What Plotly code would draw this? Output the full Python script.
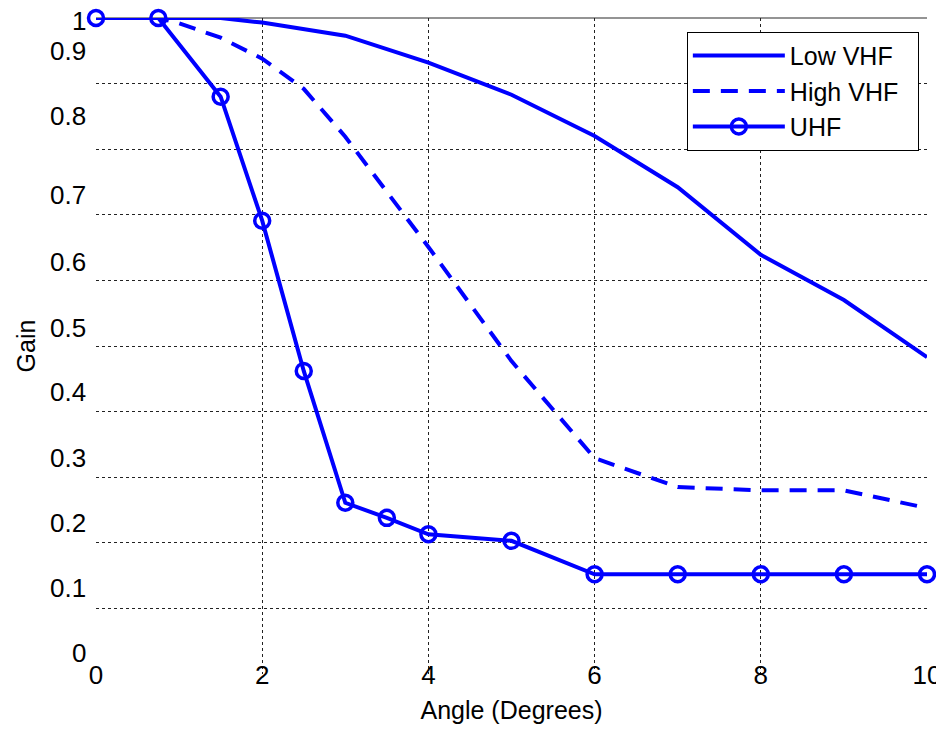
import plotly.graph_objects as go

# ---- data ----
low_vhf_x = [0, 0.75, 1.5, 2, 3, 4, 5, 6, 7, 8, 9, 10]
low_vhf_y = [1.0, 1.0, 1.0, 0.993, 0.973, 0.932, 0.883, 0.820, 0.742, 0.639, 0.570, 0.483]

high_vhf_x = [0, 0.75, 1, 1.5, 2, 2.5, 3, 4, 5, 6, 7, 8, 9, 10]
high_vhf_y = [1.0, 1.0, 0.992, 0.970, 0.938, 0.892, 0.819, 0.651, 0.477, 0.329, 0.285, 0.280, 0.280, 0.253]

uhf_x = [0, 0.75, 1.5, 2, 2.5, 3, 3.5, 4, 5, 6, 7, 8, 9, 10]
uhf_y = [1.0, 1.0, 0.880, 0.691, 0.462, 0.261, 0.238, 0.213, 0.203, 0.152, 0.152, 0.152, 0.152, 0.152]

x_ticks = [0, 2, 4, 6, 8, 10]
y_ticks = [0, 0.1, 0.2, 0.3, 0.4, 0.5, 0.6, 0.7, 0.8, 0.9, 1.0]
y_tick_text = ["0", "0.1", "0.2", "0.3", "0.4", "0.5", "0.6", "0.7", "0.8", "0.9", "1"]

# ---- style ----
BLUE = "#0000ff"
FONT = "Liberation Sans, Arial, sans-serif"
y_label_shift = [21, 20, 20, 19, 20, 18, 18, 20, 33, 33, -3]

fig = go.Figure()
fig.add_trace(go.Scatter(x=low_vhf_x, y=low_vhf_y, mode="lines", name="Low VHF&nbsp;",
                         line=dict(color=BLUE, width=4), cliponaxis=False))
fig.add_trace(go.Scatter(x=high_vhf_x, y=high_vhf_y, mode="lines", name="High VHF&nbsp;&nbsp;",
                         line=dict(color=BLUE, width=4, dash="17px,11px"), cliponaxis=False))
fig.add_trace(go.Scatter(x=uhf_x, y=uhf_y, mode="lines+markers", name="UHF",
                         line=dict(color=BLUE, width=4),
                         marker=dict(symbol="circle-open", size=15, color=BLUE,
                                     line=dict(width=3.5, color=BLUE)),
                         cliponaxis=False))

grid = dict(showgrid=True, gridcolor="#222222", gridwidth=1, griddash="dot",
            zeroline=False, showline=False, ticks="", automargin=False)

# page body has an 8px margin, so the figure is sized/offset to compensate
fig.update_layout(
    width=936, height=721,
    margin=dict(l=88, r=17, t=10, b=55),
    paper_bgcolor="white", plot_bgcolor="white",
    font=dict(family=FONT, size=25, color="black"),
    xaxis=dict(range=[0, 10], tickvals=x_ticks, ticklabelstandoff=-17,
               ticklabeloverflow="allow",
               tickfont=dict(size=26),
               title=dict(text="Angle (Degrees)", font=dict(size=25), standoff=12), **grid),
    yaxis=dict(range=[0, 1], tickvals=y_ticks, showticklabels=False,
               title=dict(text="Gain", font=dict(size=25), standoff=52), **grid),
    legend=dict(x=0.711, y=0.979, xanchor="left", yanchor="top",
                bgcolor="white", bordercolor="black", borderwidth=1,
                font=dict(size=25), itemwidth=92, tracegroupgap=0),
    showlegend=True,
)

for v, t, s in zip(y_ticks, y_tick_text, y_label_shift):
    fig.add_annotation(x=0, xref="paper", y=v, yref="y", text=t, showarrow=False,
                       xanchor="right", yanchor="middle", xshift=-8, yshift=s,
                       font=dict(size=26, family=FONT, color="black"))

fig.add_shape(type="line", xref="paper", yref="paper", x0=0, x1=1, y0=1, y1=1,
              line=dict(color="#707070", width=1.5), layer="below")

fig.write_html("out.html")
